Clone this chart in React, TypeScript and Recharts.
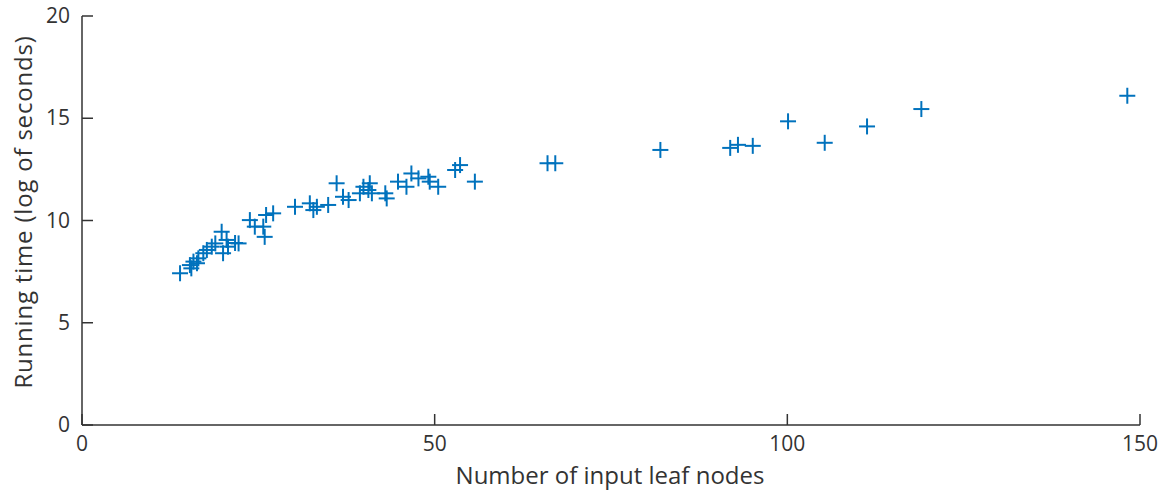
import React from 'react';
import { ScatterChart, Scatter, XAxis, YAxis } from 'recharts';

// number of leaf nodes vs running time (log of seconds)
const leafNodes = [
  13.9, 15.5, 15.8, 15.3, 16.5, 16.3, 17.2, 17.7, 18.4, 18.9,
  19.8, 20.0, 20.5, 20.7, 21.7, 22.2, 23.8, 24.5, 25.9, 25.7,
  26.1, 27.1, 30.2, 32.3, 32.8, 33.3, 34.9, 36.1, 37.0, 37.8,
  39.4, 40.6, 39.9, 40.8, 41.1, 43.0, 43.2, 44.8, 46.0, 46.7,
  47.7, 49.1, 49.3, 50.5, 52.9, 53.6, 55.7,
  66.0, 67.1, 82.0, 91.9, 93.0, 95.1, 100.1, 105.3, 111.3, 119.0, 148.2,
];
const runTimes = [
  7.42, 7.66, 7.99, 7.82, 8.15, 7.91, 8.4, 8.56, 8.72, 8.88,
  9.45, 8.4, 9.05, 8.72, 8.9, 8.88, 10.02, 9.7, 9.2, 9.7,
  10.27, 10.35, 10.67, 10.84, 10.51, 10.67, 10.76, 11.82, 11.16, 11.0,
  11.33, 11.49, 11.65, 11.82, 11.33, 11.33, 11.08, 11.9, 11.65, 12.3,
  12.06, 12.14, 11.9, 11.65, 12.47, 12.71, 11.9,
  12.8, 12.8, 13.45, 13.55, 13.7, 13.65, 14.85, 13.8, 14.6, 15.45, 16.1,
];
const xTicks = [0, 50, 100, 150];
const yTicks = [0, 5, 10, 15, 20];

const points = leafNodes.map((x, i) => ({ x, y: runTimes[i] }));

const FONT = '"Open Sans", sans-serif';
const AXIS = '#333333';
const BLUE = '#0072BD';

const Plus = (props: any) => {
  const { cx, cy } = props;
  return (
    <g stroke={BLUE} strokeWidth={2}>
      <line x1={cx - 8} y1={cy} x2={cx + 8} y2={cy} />
      <line x1={cx} y1={cy - 8} x2={cx} y2={cy + 8} />
    </g>
  );
};

const YTick = (props: any) => {
  const { x, y, payload } = props;
  return (
    <g>
      <line x1={x + 12} y1={y} x2={x + 23} y2={y} stroke={AXIS} strokeWidth={1.5} />
      <text x={x} y={y} dy={7} textAnchor="end" fontSize={21} fill={AXIS} fontFamily={FONT}>
        {payload.value}
      </text>
    </g>
  );
};

const XTick = (props: any) => {
  const { x, y, payload } = props;
  return (
    <g>
      <line x1={x} y1={y - 10} x2={x} y2={y - 21} stroke={AXIS} strokeWidth={1.5} />
      <text x={x} y={y} dy={16} textAnchor="middle" fontSize={21} fill={AXIS} fontFamily={FONT}>
        {payload.value}
      </text>
    </g>
  );
};

export default function App() {
  return (
    <div style={{ position: 'absolute', left: 0, top: 0, width: 1171, height: 490, background: '#fff' }}>
      <ScatterChart width={1171} height={490} margin={{ top: 16, right: 31, bottom: 25, left: 30 }}>
        <XAxis
          type="number"
          dataKey="x"
          domain={[0, 150]}
          ticks={xTicks}
          tickLine={false}
          tickSize={0}
          tickMargin={10}
          tick={<XTick />}
          height={40}
          stroke={AXIS}
          strokeWidth={1.5}
        />
        <YAxis
          type="number"
          dataKey="y"
          domain={[0, 20]}
          ticks={yTicks}
          tickLine={false}
          tickSize={0}
          tickMargin={12}
          tick={<YTick />}
          width={52}
          stroke={AXIS}
          strokeWidth={1.5}
        />
        <Scatter data={points} shape={<Plus />} isAnimationActive={false} />
      </ScatterChart>
      <div
        style={{
          position: 'absolute', left: 610, top: 474, transform: 'translate(-50%, -50%)',
          fontFamily: FONT, fontSize: 24, color: AXIS, whiteSpace: 'nowrap',
        }}
      >
        Number of input leaf nodes
      </div>
      <div
        style={{
          position: 'absolute', left: 22, top: 212, transform: 'translate(-50%, -50%) rotate(-90deg)',
          fontFamily: FONT, fontSize: 24, color: AXIS, whiteSpace: 'nowrap', letterSpacing: 0.8,
        }}
      >
        Running time (log of seconds)
      </div>
    </div>
  );
}
